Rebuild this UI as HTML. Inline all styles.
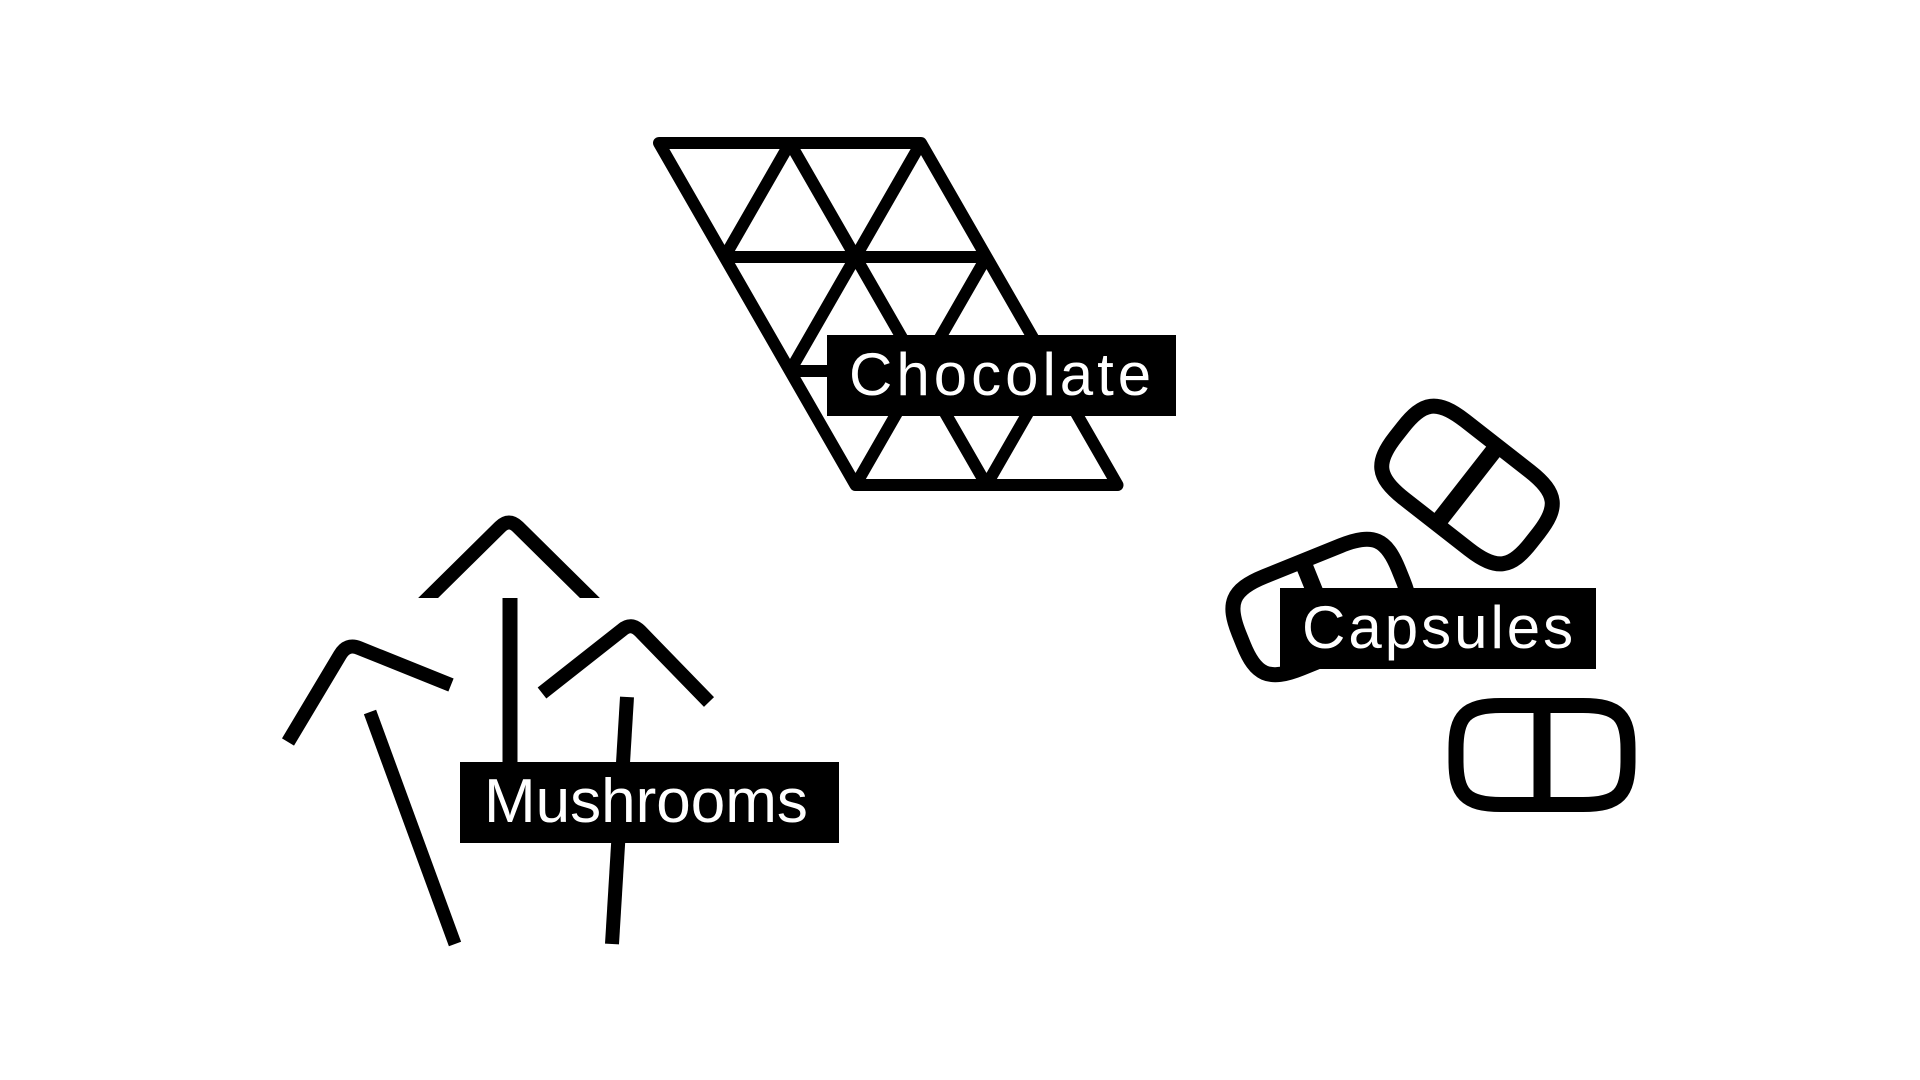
<!DOCTYPE html>
<html><head><meta charset="utf-8"><style>
html,body{margin:0;padding:0;background:#fff;width:1920px;height:1080px;overflow:hidden}
svg{display:block}
</style></head><body>
<svg width="1920" height="1080" viewBox="0 0 1920 1080" xmlns="http://www.w3.org/2000/svg">
<rect width="1920" height="1080" fill="#fff"/>
<defs>
  <path id="pill" d="M -41,-49.5 L 41,-49.5 C 77,-49.5 86,-38 86,-6 L 86,6 C 86,38 77,49.5 41,49.5 L -41,49.5 C -77,49.5 -86,38 -86,6 L -86,-6 C -86,-38 -77,-49.5 -41,-49.5 Z"/>
  <clipPath id="c1"><rect x="0" y="0" width="1920" height="598"/></clipPath>
</defs>
<g stroke="#000" stroke-width="12" fill="none" stroke-linejoin="round" stroke-linecap="round">
  <polygon points="659,143 921,143 1117.5,485 855.5,485"/>
  <line x1="724.5" y1="257" x2="986.5" y2="257" stroke-linecap="butt"/>
  <line x1="790" y1="371" x2="1052" y2="371" stroke-linecap="butt"/>
  <line x1="790" y1="143" x2="986.5" y2="485" stroke-linecap="butt"/>
  <line x1="790" y1="143" x2="724.5" y2="257" stroke-linecap="butt"/>
  <line x1="921" y1="143" x2="790" y2="371" stroke-linecap="butt"/>
  <line x1="986.5" y1="257" x2="855.5" y2="485" stroke-linecap="butt"/>
  <line x1="1052" y1="371" x2="986.5" y2="485" stroke-linecap="butt"/>
</g>
<rect x="827" y="335" width="349" height="81" fill="#000"/>
<text x="849" y="395" fill="#fff" font-family="Liberation Sans, sans-serif" font-size="60" letter-spacing="4">Chocolate</text>

<g stroke="#000" stroke-width="15" fill="#fff">
  <g transform="translate(1467,485) rotate(38)">
    <use href="#pill"/>
    <line x1="0" y1="-50" x2="0" y2="50" stroke-width="17"/>
  </g>
  <g transform="translate(1321,607) rotate(-22)">
    <use href="#pill"/>
    <line x1="0" y1="-50" x2="0" y2="50" stroke-width="17"/>
  </g>
  <g transform="translate(1542,755)">
    <use href="#pill"/>
    <line x1="0" y1="-50" x2="0" y2="50" stroke-width="17"/>
  </g>
</g>
<rect x="1280" y="588" width="316" height="81" fill="#000"/>
<text x="1302" y="648" fill="#fff" font-family="Liberation Sans, sans-serif" font-size="60" letter-spacing="3">Capsules</text>

<g stroke="#000" fill="none" stroke-width="14" stroke-linejoin="round">
  <path d="M420,606 L500,527 Q509,518 518,527 L598,606" clip-path="url(#c1)"/>
  <line x1="510" y1="598" x2="510" y2="770" stroke-width="15"/>
  <path d="M288,742 L340,655 Q347,643 359,648 L451,685"/>
  <line x1="370" y1="712" x2="455" y2="944" stroke-width="13"/>
  <path d="M542,693 L622,630 Q631,622 640,631 L709,702"/>
  <line x1="627" y1="697" x2="612" y2="944" stroke-width="14"/>
</g>
<rect x="460" y="762" width="379" height="81" fill="#000"/>
<text x="484" y="822" fill="#fff" font-family="Liberation Sans, sans-serif" font-size="62">Mushrooms</text>
</svg>
</body></html>
